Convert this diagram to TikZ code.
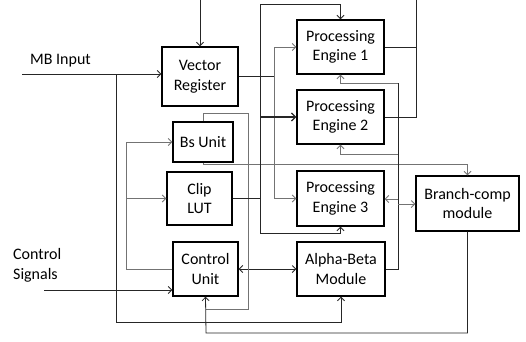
\documentclass[tikz,border=0pt]{standalone}
\usepackage{fontspec}
\setmainfont{Carlito}
\usetikzlibrary{arrows.meta}
\tikzset{
  blk/.style={draw=black, line width=1.4pt, fill=white, align=center, inner sep=0pt,
              font=\fontsize{16}{19.5}\selectfont},
  conn/.style={draw=black!85, line width=0.8pt},
  gconn/.style={draw=black!55, line width=0.8pt},
  tip/.style={-{Straight Barb[length=3.5pt,width=7pt]}},
  dtip/.style={{Straight Barb[length=3.5pt,width=7pt]}-{Straight Barb[length=3.5pt,width=7pt]}},
  lbl/.style={font=\fontsize{16}{19.5}\selectfont, inner sep=0pt, align=left}
}
\begin{document}
\begin{tikzpicture}[x=1pt,y=-1pt]
\useasboundingbox (0,0) rectangle (526,341);
% boxes
\node[blk, minimum width=76pt, minimum height=59pt] (VR) at (200,76.5) {Vector\\Register};
\node[blk, minimum width=60pt, minimum height=40pt] (Bs) at (203,142) {Bs Unit};
\node[blk, minimum width=65pt, minimum height=53pt] (Clip) at (199.5,198.5) {Clip\\LUT};
\node[blk, minimum width=65pt, minimum height=54pt] (CU) at (205.5,269) {Control\\Unit};
\node[blk, minimum width=87pt, minimum height=54pt] (PE1) at (340.5,47) {Processing\\Engine 1};
\node[blk, minimum width=87pt, minimum height=54pt] (PE2) at (340.5,117) {Processing\\Engine 2};
\node[blk, minimum width=87pt, minimum height=55pt] (PE3) at (340.5,198.5) {Processing\\Engine 3};
\node[blk, minimum width=88pt, minimum height=54pt] (AB) at (341,269) {Alpha-Beta\\Module};
\node[blk, minimum width=103pt, minimum height=55pt] (BC) at (467.5,203.5) {Branch-comp\\module};
% labels
\node[lbl, anchor=west] (mbl) at (30,61) {MB Input};
\node[lbl, anchor=west] (csl) at (13,265.5) {Control\\Signals};
% free ends
\coordinate (top1) at (200,0);
\coordinate (top2) at (416,0);
\coordinate (mb) at (22,74);
\coordinate (cs) at (44,290);
% connectors
\draw[conn,tip] (top1) -- (VR.north);
\draw[conn,tip] (mb) -- (mb -| VR.west);
\draw[conn,tip] (116,74) -- (116,322) -| (AB.south);
\draw[conn,tip] (cs) -- (cs -| CU.west);
\draw[gconn,tip] (CU.west) -- (126,269) |- (Bs.west);
\draw[gconn,tip] (126,198.5) -- (Clip.west);
\draw[conn,dtip] (CU.east) -- (AB.west);
\draw[gconn] (Bs.north) |- (248,113) |- (206,309);
\draw[conn,tip] (BC.south) |- (206,333) -- (CU.south);
\draw[gconn,tip] (Bs.south) -- ++(0,2) -| (BC.north);
\draw[conn] (VR.east) -- (274,76.5);
\draw[gconn,tip] (274,76.5) |- (PE1.west);
\draw[gconn,tip] (274,76.5) |- (PE3.west);
\draw[conn] (Clip.east) -- (260,198.5);
\draw[conn,tip] (260,198.5) -- (260,4) -| (PE1.north);
\draw[conn,tip] (260,198.5) -- (260,233) -| (PE3.south);
\draw[conn, line width=1.2pt, -{Straight Barb[length=4pt,width=8pt]}] (260,117) -- (PE2.west);
\draw[conn] (AB.east) -- (398,269) -- (398,83);
\draw[gconn,tip] (398,83) -| (PE1.south);
\draw[gconn,tip] (398,154) -| (PE2.south);
\draw[gconn,tip] (398,199) -- (PE3.east |- 0,199);
\draw[gconn,tip] (398,204) -- (BC.west |- 0,204);
\draw[conn] (PE1.east) -- (416,47);
\draw[conn] (PE2.east) -| (top2);
\end{tikzpicture}
\end{document}
